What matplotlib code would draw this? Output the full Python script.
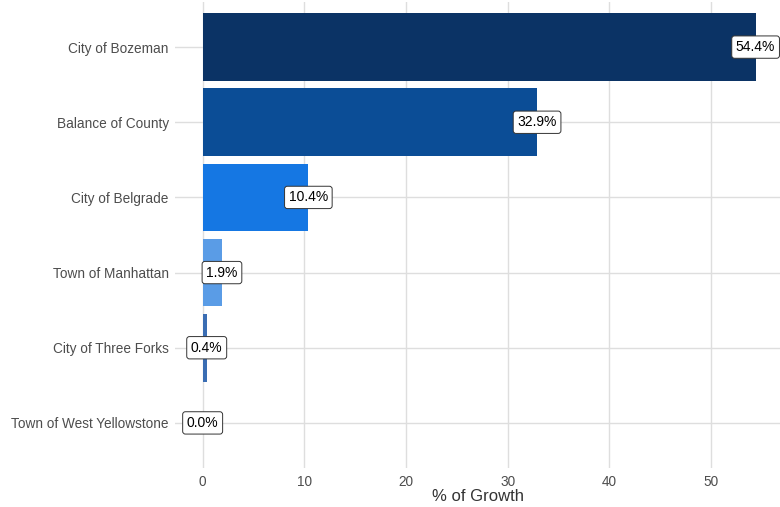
import numpy as np
import matplotlib.pyplot as plt

# data
places = ['City of Bozeman', 'Balance of County', 'City of Belgrade',
          'Town of Manhattan', 'City of Three Forks', 'Town of West Yellowstone']
growth = [54.4, 32.9, 10.4, 1.9, 0.4, 0.0]
bar_colors = ['#0b3365', '#0b4d96', '#1577e3', '#5a9ce6', '#3a6db3', '#2c5fa6']

plt.rcParams['font.family'] = ['Liberation Sans', 'DejaVu Sans']

fig = plt.figure(figsize=(7.8, 5.07), dpi=100)
ax = fig.add_axes([175 / 780, 1 - 468 / 507, 605 / 780, 466 / 507])

y = np.arange(len(places))[::-1]
ax.barh(y, growth, height=0.9, color=bar_colors, zorder=2)

for yi, v in zip(y, growth):
    ax.text(v, yi, '{:.1f}%'.format(v), ha='center', va='center', fontsize=10,
            color='black', zorder=3,
            bbox=dict(boxstyle='round,pad=0.3,rounding_size=0.2',
                      fc='white', ec='#333333', lw=0.7))

ax.set_yticks(y)
ax.set_yticklabels(places)
ax.set_xticks([0, 10, 20, 30, 40, 50])
ax.set_xlim(-2.72, 56.8)
ax.set_ylim(-0.6, len(places) - 0.4)

ax.grid(True, color='#dedede', lw=1.0, zorder=0)
ax.set_axisbelow(True)
for s in ax.spines.values():
    s.set_visible(False)
ax.tick_params(axis='both', length=0, labelsize=9.8, labelcolor='#4d4d4d')
ax.tick_params(axis='y', pad=4.5)
ax.tick_params(axis='x', pad=5)
ax.set_xlabel('% of Growth', fontsize=12, color='#333333', labelpad=0)

fig.savefig('out.png', dpi=100)
